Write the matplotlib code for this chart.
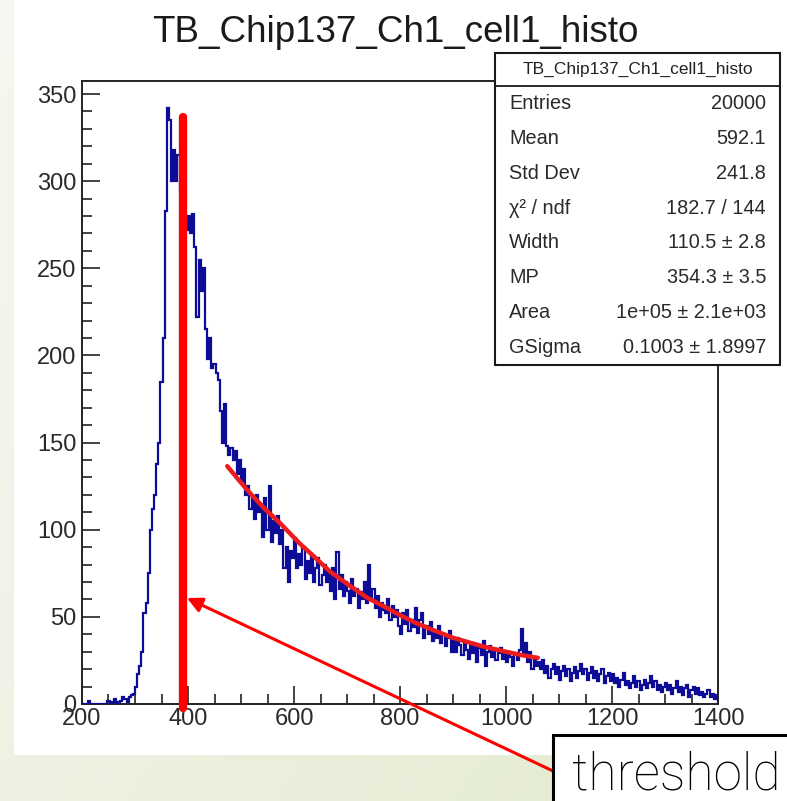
import numpy as np
import matplotlib
matplotlib.use("Agg")
import matplotlib.pyplot as plt
from matplotlib.patches import Rectangle
from matplotlib.ticker import MultipleLocator

# ---------------- data ----------------
title = "TB_Chip137_Ch1_cell1_histo"
bin_start, bin_width = 200, 4
counts = [
    # 200-300
    0, 0, 0, 2, 0, 0, 0, 0, 0, 0, 0, 0, 2, 0, 1, 3, 0, 1, 2, 4, 3, 1, 4, 5, 6,
    # 300-400
    10, 17, 22, 30, 52, 58, 75, 100, 112, 120, 138, 150, 185, 210, 283, 342, 335, 300, 318, 300, 315, 295, 300, 280, 272,
    # 400-500
    280, 270, 281, 262, 222, 255, 237, 250, 215, 198, 210, 193, 195, 190, 186, 168, 150, 172, 148, 143, 147, 140, 145, 132, 140,
    # 500-600
    128, 135, 120, 125, 112, 118, 106, 120, 110, 113, 96, 118, 100, 125, 93, 105, 98, 108, 92, 100, 78, 90, 70, 88, 84,
    # 600-700
    95, 78, 86, 80, 90, 72, 82, 75, 85, 70, 78, 84, 68, 74, 80, 70, 76, 65, 78, 60, 87, 66, 74, 62, 70,
    # 700-800
    65, 58, 72, 62, 66, 55, 64, 60, 70, 58, 80, 60, 66, 55, 62, 50, 58, 54, 52, 60, 48, 56, 50, 54, 45,
    # 800-900
    40, 52, 46, 54, 42, 48, 44, 55, 41, 48, 52, 38, 45, 40, 47, 36, 42, 38, 45, 35, 40, 33, 38, 42, 30,
    # 900-1000
    36, 30, 38, 34, 28, 36, 31, 26, 35, 29, 33, 24, 32, 28, 36, 22, 30, 33, 27, 31, 25, 29, 32, 26, 30,
    # 1000-1100
    24, 30, 27, 22, 29, 25, 31, 43, 28, 35, 24, 30, 20, 26, 22, 24, 20, 25, 18, 22, 15, 20, 23, 17, 21,
    # 1100-1200
    14, 19, 22, 16, 20, 13, 18, 21, 15, 19, 23, 17, 20, 14, 18, 21, 15, 19, 13, 17, 20, 12, 16, 18, 13,
    # 1200-1300
    17, 12, 15, 10, 14, 18, 11, 13, 9, 12, 16, 10, 13, 8, 11, 14, 9, 12, 16, 10, 13, 8, 11, 7, 10,
    # 1300-1400
    12, 8, 11, 6, 9, 13, 7, 10, 5, 9, 11, 4, 8, 10, 6, 9, 5, 7, 4, 6, 8, 4, 6, 3, 5,
]
fit_x = [474, 500, 520, 545, 573, 611, 640, 668, 700, 738, 770, 800, 830, 862, 900, 957, 1000, 1030, 1060]
fit_y = [136.5, 127, 120, 112, 104, 92, 84, 76, 69, 61, 56, 51, 46.5, 42.5, 38, 33, 30, 28, 26.5]
threshold = 390
threshold_top = 337
stat_labels = ["Entries", "Mean", "Std Dev", "χ² / ndf", "Width", "MP", "Area", "GSigma"]
stat_values = ["20000", "592.1", "241.8", "182.7 / 144", "110.5 ± 2.8", "354.3 ± 3.5",
               "1e+05 ± 2.1e+03", "0.1003 ± 1.8997"]
x_ticks = [200, 400, 600, 800, 1000, 1200, 1400]
y_ticks = [0, 50, 100, 150, 200, 250, 300, 350]
note_text = "threshold"

# ---------------- figure ----------------
W, H = 787, 801
fig = plt.figure(figsize=(W / 100, H / 100), dpi=100)
plt.rcParams['font.family'] = ['Liberation Sans', 'DejaVu Sans']

# slide background gradient
bg = fig.add_axes([0, 0, 1, 1], zorder=-10)
gx = np.linspace(0, 1, 200)
gy = np.linspace(0, 1, 200)
GX, GY = np.meshgrid(gx, gy)
t = np.clip(0.6 * GX + 0.4 * GY, 0, 1)
c0 = np.array([246, 247, 240]) / 255
c1 = np.array([226, 234, 206]) / 255
img = c0[None, None, :] * (1 - t[..., None]) + c1[None, None, :] * t[..., None]
bg.imshow(img, extent=[0, 1, 0, 1], aspect='auto', origin='upper')
bg.set_xlim(0, 1); bg.set_ylim(0, 1)
bg.axis('off')

def fx(px):
    return px / W

def fy(py):
    return 1 - py / H

# white chart panel
fig.patches.append(Rectangle((fx(14), fy(755)), 1 - fx(14), 1 - fy(755) + 0.01,
                             transform=fig.transFigure, facecolor='white',
                             edgecolor='none', zorder=-5))

ax = fig.add_axes([fx(82), fy(704), fx(718) - fx(82), fy(81) - fy(704)])
ax.set_facecolor('white')

edges = bin_start + bin_width * np.arange(len(counts) + 1)
ax.stairs(counts, edges, color='#0c0c96', linewidth=1.6, zorder=3)

ax.plot(fit_x, fit_y, color='#ee1c1c', linewidth=3.2, solid_capstyle='round', zorder=4)

ax.plot([threshold, threshold], [-2.3, threshold_top], color='#ff0000', linewidth=6,
        solid_capstyle='round', zorder=5, clip_on=False)

ax.set_xlim(200, 1400)
ax.set_ylim(0, 357.5)
ax.set_xticks(x_ticks)
ax.set_yticks(y_ticks)
ax.xaxis.set_minor_locator(MultipleLocator(50))
ax.yaxis.set_minor_locator(MultipleLocator(10))
ax.tick_params(which='both', direction='in', top=False, right=False, color='#222222', width=1.2)
ax.tick_params(which='major', length=13)
ax.tick_params(which='minor', length=7)
ax.tick_params(axis='x', which='major', labelsize=17, pad=3, labelcolor='#2a2a2a')
ax.tick_params(axis='y', which='major', labelsize=17, pad=4, labelcolor='#2a2a2a')
for sp in ax.spines.values():
    sp.set_linewidth(1.4)
    sp.set_color('#222222')

# title
fig.text(fx(395), fy(33), title, ha='center', va='center', fontsize=26.5, color='#1a1a1a')

# stats box
bx0, bx1, by0, by1, bhead = 495, 780, 53, 365, 86
fig.patches.append(Rectangle((fx(bx0), fy(by1)), fx(bx1) - fx(bx0), fy(by0) - fy(by1),
                             transform=fig.transFigure, facecolor='white',
                             edgecolor='#1a1a1a', linewidth=1.5, zorder=10))
fig.lines.append(plt.Line2D([fx(bx0), fx(bx1)], [fy(bhead), fy(bhead)],
                            transform=fig.transFigure, color='#1a1a1a', linewidth=1.3, zorder=11))
fig.text(fx((bx0 + bx1) / 2), fy((by0 + bhead) / 2), title, ha='center', va='center',
         fontsize=12.5, color='#222222', zorder=12)
row_h = (by1 - bhead) / len(stat_labels)
for i, (lab, val) in enumerate(zip(stat_labels, stat_values)):
    yc = bhead + row_h * (i + 0.5)
    fig.text(fx(509), fy(yc), lab, ha='left', va='center', fontsize=14.3, color='#2a2a2a', zorder=12)
    fig.text(fx(766), fy(yc), val, ha='right', va='center', fontsize=14.3, color='#2a2a2a', zorder=12)

# threshold note box
fig.patches.append(Rectangle((fx(553), fy(820)), fx(800) - fx(553), fy(735) - fy(820),
                             transform=fig.transFigure, facecolor='white',
                             edgecolor='black', linewidth=2.2, zorder=10, clip_on=False))
fig.text(fx(572), fy(776), note_text, ha='left', va='center', fontsize=37,
         family=['Roboto', 'DejaVu Sans'], fontweight='light', color='black', zorder=12)

# arrow
ax.annotate('', xy=(threshold + 8, 60.8), xycoords='data',
            xytext=(fx(553), fy(771)), textcoords='figure fraction',
            arrowprops=dict(arrowstyle='-|>,head_length=0.9,head_width=0.45',
                            color='#ff0000', linewidth=2.2, shrinkA=0, shrinkB=0),
            zorder=9, annotation_clip=False)

fig.savefig('out.png', dpi=100)
